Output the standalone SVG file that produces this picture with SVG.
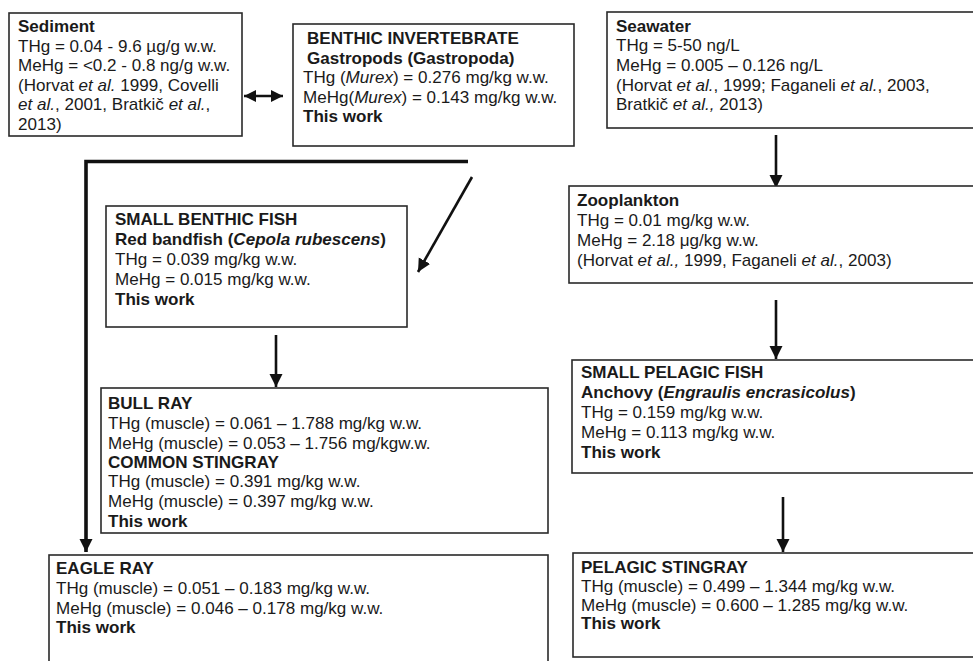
<svg xmlns="http://www.w3.org/2000/svg" width="973" height="661" viewBox="0 0 973 661">
<style>
.box{fill:#fff;stroke:#2a2a2a;stroke-width:1.6}
.t{font-family:"Liberation Sans",Arial,Helvetica,sans-serif;font-size:16.4px;fill:#1a1a1a}
.b{font-weight:bold}
.i{font-style:italic}
.c{fill:none;stroke:#111;stroke-width:2.6}
.ck{fill:none;stroke:#111;stroke-width:3.6}
</style>
<defs>
<marker id="ah" markerUnits="userSpaceOnUse" markerWidth="14" markerHeight="14" refX="13" refY="6.5" orient="auto-start-reverse" viewBox="0 0 14 14">
<path d="M0,0 L13,6.5 L0,13 z" fill="#111"/>
</marker>
<marker id="ahs" markerUnits="userSpaceOnUse" markerWidth="14" markerHeight="14" refX="12" refY="6" orient="auto-start-reverse" viewBox="0 0 14 14">
<path d="M0,0 L12,6 L0,12 z" fill="#111"/>
</marker>
</defs>
<rect width="973" height="661" fill="#fff"/>

<g id="connectors">
<line class="c" x1="244" y1="96" x2="283" y2="96" marker-start="url(#ahs)" marker-end="url(#ahs)"/>
<path class="ck" d="M468,161.5 L86,161.5 L86,552" marker-end="url(#ah)"/>
<line class="c" x1="472" y1="177" x2="418" y2="272" marker-end="url(#ah)"/>
<line class="c" x1="276" y1="335" x2="276" y2="387" marker-end="url(#ah)"/>
<line class="c" x1="776" y1="135" x2="776" y2="188" marker-end="url(#ah)"/>
<line class="c" x1="776" y1="300" x2="776" y2="359" marker-end="url(#ah)"/>
<line class="c" x1="783" y1="497" x2="783" y2="552" marker-end="url(#ah)"/>
</g>

<g id="sediment">
<rect class="box" x="9" y="13" width="233" height="123"/>
<text class="t b" transform="translate(18,32) scale(1.04,1)">Sediment</text>
<text class="t" transform="translate(18,51.6) scale(1.04,1)">THg = 0.04 - 9.6 µg/g w.w.</text>
<text class="t" transform="translate(18,71.2) scale(1.04,1)">MeHg = &lt;0.2 - 0.8 ng/g w.w.</text>
<text class="t" transform="translate(18,90.8) scale(1.04,1)">(Horvat <tspan class="i">et al.</tspan> 1999, Covelli</text>
<text class="t" transform="translate(18,110.4) scale(1.04,1)"><tspan class="i">et al.</tspan>, 2001, Bratkič <tspan class="i">et al.</tspan>,</text>
<text class="t" transform="translate(18,130) scale(1.04,1)">2013)</text>
</g>

<g id="benthic-invertebrate">
<rect class="box" x="293" y="24" width="281" height="122"/>
<text class="t b" transform="translate(307,43.5) scale(1.04,1)">BENTHIC INVERTEBRATE</text>
<text class="t b" transform="translate(307,63.5) scale(1.04,1)">Gastropods (Gastropoda)</text>
<text class="t" transform="translate(303,83) scale(1.04,1)">THg (<tspan class="i">Murex</tspan>) = 0.276 mg/kg w.w.</text>
<text class="t" transform="translate(303,102.5) scale(1.04,1)">MeHg(<tspan class="i">Murex</tspan>) = 0.143 mg/kg w.w.</text>
<text class="t b" transform="translate(303,122) scale(1.04,1)">This work</text>
</g>

<g id="seawater">
<rect class="box" x="607" y="12" width="400" height="116"/>
<text class="t b" transform="translate(616,31.7) scale(1.04,1)">Seawater</text>
<text class="t" transform="translate(616,51.3) scale(1.04,1)">THg = 5-50 ng/L</text>
<text class="t" transform="translate(616,71) scale(1.04,1)">MeHg = 0.005 – 0.126 ng/L</text>
<text class="t" transform="translate(616,90.6) scale(1.04,1)">(Horvat <tspan class="i">et al.</tspan>, 1999; Faganeli <tspan class="i">et al.</tspan>, 2003,</text>
<text class="t" transform="translate(616,110.2) scale(1.04,1)">Bratkič <tspan class="i">et al.,</tspan> 2013)</text>
</g>

<g id="zooplankton">
<rect class="box" x="569" y="186" width="430" height="97"/>
<text class="t b" transform="translate(577,205.7) scale(1.04,1)">Zooplankton</text>
<text class="t" transform="translate(577,225.7) scale(1.04,1)">THg = 0.01 mg/kg w.w.</text>
<text class="t" transform="translate(577,245.7) scale(1.04,1)">MeHg = 2.18 μg/kg w.w.</text>
<text class="t" transform="translate(577,265.7) scale(1.04,1)">(Horvat <tspan class="i">et al.,</tspan> 1999, Faganeli <tspan class="i">et al.</tspan>, 2003)</text>
</g>

<g id="small-benthic-fish">
<rect class="box" x="106" y="206" width="301" height="121"/>
<text class="t b" transform="translate(115,225) scale(1.04,1)">SMALL BENTHIC FISH</text>
<text class="t b" transform="translate(115,245) scale(1.04,1)">Red bandfish (<tspan class="i">Cepola rubescens</tspan>)</text>
<text class="t" transform="translate(115,265) scale(1.04,1)">THg = 0.039 mg/kg w.w.</text>
<text class="t" transform="translate(115,285) scale(1.04,1)">MeHg = 0.015 mg/kg w.w.</text>
<text class="t b" transform="translate(115,305) scale(1.04,1)">This work</text>
</g>

<g id="small-pelagic-fish">
<rect class="box" x="572" y="360" width="430" height="113"/>
<text class="t b" transform="translate(581,378.3) scale(1.04,1)">SMALL PELAGIC FISH</text>
<text class="t b" transform="translate(581,398.3) scale(1.04,1)">Anchovy (<tspan class="i">Engraulis encrasicolus</tspan>)</text>
<text class="t" transform="translate(581,418.3) scale(1.04,1)">THg = 0.159 mg/kg w.w.</text>
<text class="t" transform="translate(581,438.3) scale(1.04,1)">MeHg = 0.113 mg/kg w.w.</text>
<text class="t b" transform="translate(581,457.7) scale(1.04,1)">This work</text>
</g>

<g id="bull-ray">
<rect class="box" x="101" y="388" width="447" height="145"/>
<text class="t b" transform="translate(108,409.3) scale(1.04,1)">BULL RAY</text>
<text class="t" transform="translate(108,429.3) scale(1.04,1)">THg (muscle) = 0.061 – 1.788 mg/kg w.w.</text>
<text class="t" transform="translate(108,448.8) scale(1.04,1)">MeHg (muscle) = 0.053 – 1.756 mg/kgw.w.</text>
<text class="t b" transform="translate(108,468) scale(1.04,1)">COMMON STINGRAY</text>
<text class="t" transform="translate(108,487.3) scale(1.04,1)">THg (muscle) = 0.391 mg/kg w.w.</text>
<text class="t" transform="translate(108,506.8) scale(1.04,1)">MeHg (muscle) = 0.397 mg/kg w.w.</text>
<text class="t b" transform="translate(108,526.5) scale(1.04,1)">This work</text>
</g>

<g id="pelagic-stingray">
<rect class="box" x="573" y="553" width="430" height="104"/>
<text class="t b" transform="translate(581,572.7) scale(1.04,1)">PELAGIC STINGRAY</text>
<text class="t" transform="translate(581,591.7) scale(1.04,1)">THg (muscle) = 0.499 – 1.344 mg/kg w.w.</text>
<text class="t" transform="translate(581,610.7) scale(1.04,1)">MeHg (muscle) = 0.600 – 1.285 mg/kg w.w.</text>
<text class="t b" transform="translate(581,629.3) scale(1.04,1)">This work</text>
</g>

<g id="eagle-ray">
<rect class="box" x="49" y="555" width="499" height="130"/>
<text class="t b" transform="translate(56,574) scale(1.04,1)">EAGLE RAY</text>
<text class="t" transform="translate(56,594) scale(1.04,1)">THg (muscle) = 0.051 – 0.183 mg/kg w.w.</text>
<text class="t" transform="translate(56,614) scale(1.04,1)">MeHg (muscle) = 0.046 – 0.178 mg/kg w.w.</text>
<text class="t b" transform="translate(56,633) scale(1.04,1)">This work</text>
</g>
</svg>
